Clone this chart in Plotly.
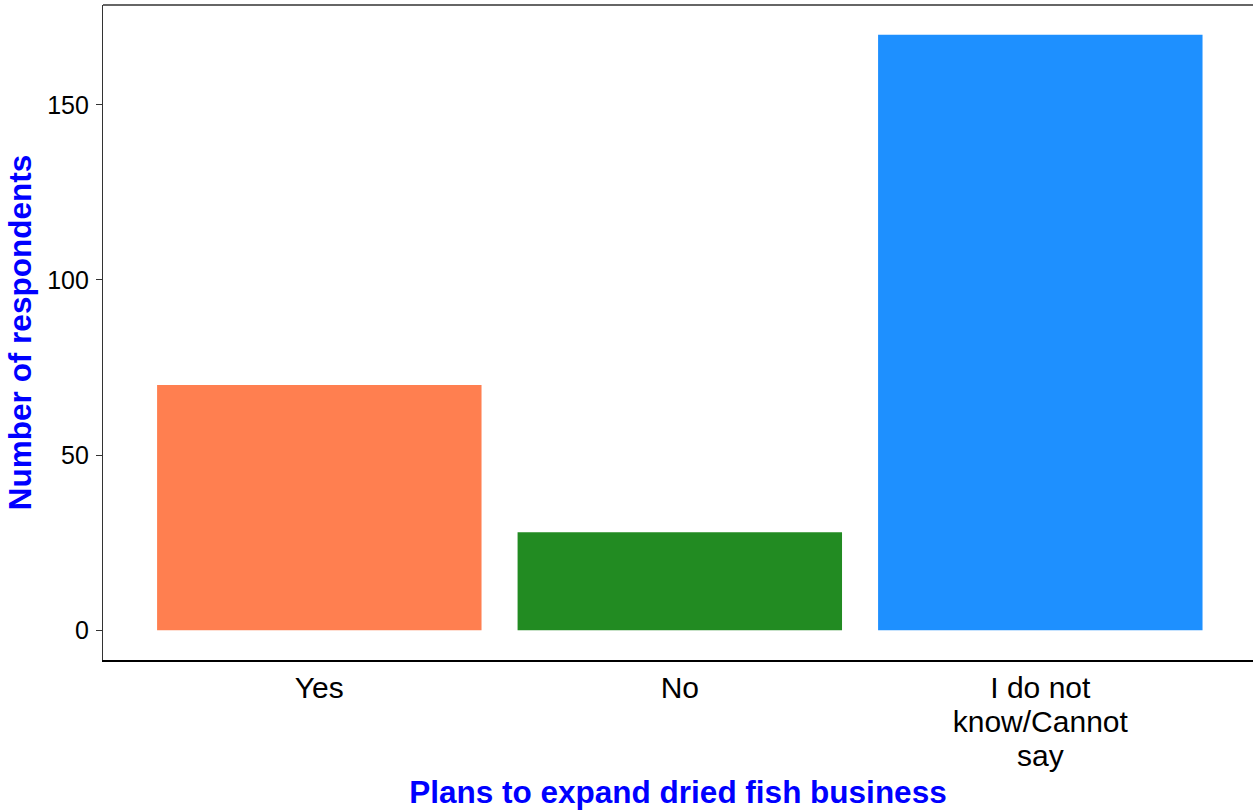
import plotly.graph_objects as go

categories = ["Yes", "No", "I do not<br>know/Cannot<br>say"]
respondents = [70, 28, 170]
bar_colors = ["#FF7F50", "#228B22", "#1E90FF"]
y_ticks = [0, 50, 100, 150]

fig = go.Figure(
    go.Bar(
        x=categories,
        y=respondents,
        marker=dict(color=bar_colors, line=dict(width=0)),
        width=0.9,
    )
)

fig.update_layout(
    width=1253,
    height=811,
    margin=dict(l=103, r=0, t=5, b=151),
    paper_bgcolor="white",
    plot_bgcolor="white",
    showlegend=False,
    font=dict(family="Liberation Sans, Arial, sans-serif", color="#000000"),
    shapes=[
        dict(type="line", xref="paper", yref="paper", x0=0, x1=1, y0=1, y1=1,
             line=dict(color="#333333", width=1.3)),
    ],
)

fig.update_xaxes(
    range=[-0.6, 2.59],
    showline=True,
    linecolor="#000000",
    linewidth=2.2,
    ticks="",
    showgrid=False,
    zeroline=False,
    tickfont=dict(size=30, color="#000000"),
    title=dict(text="<b>Plans to expand dried fish business</b>",
               font=dict(size=31.5, color="#0000FF"), standoff=0),
)

fig.update_yaxes(
    range=[-8.5, 178.5],
    tickvals=y_ticks,
    showline=True,
    linecolor="#333333",
    linewidth=1.3,
    ticks="outside",
    ticklen=6,
    tickwidth=1.3,
    tickcolor="#333333",
    ticklabelstandoff=2,
    showgrid=False,
    zeroline=False,
    tickfont=dict(size=25, color="#000000"),
    title=dict(text="<b>Number of respondents</b>",
               font=dict(size=31.5, color="#0000FF"), standoff=6),
)

post = """
document.body.style.margin='0';
document.body.style.overflow='hidden';
document.querySelectorAll('.xtick text tspan.line').forEach(function(t){
  var dy = t.getAttribute('dy');
  if (dy) {
    var v = parseFloat(dy);
    t.setAttribute('dy', (v * 1.13 / 1.3) + 'em');
  }
});
"""

fig.write_html(
    "out.html",
    config={"displayModeBar": False},
    post_script=post,
)
